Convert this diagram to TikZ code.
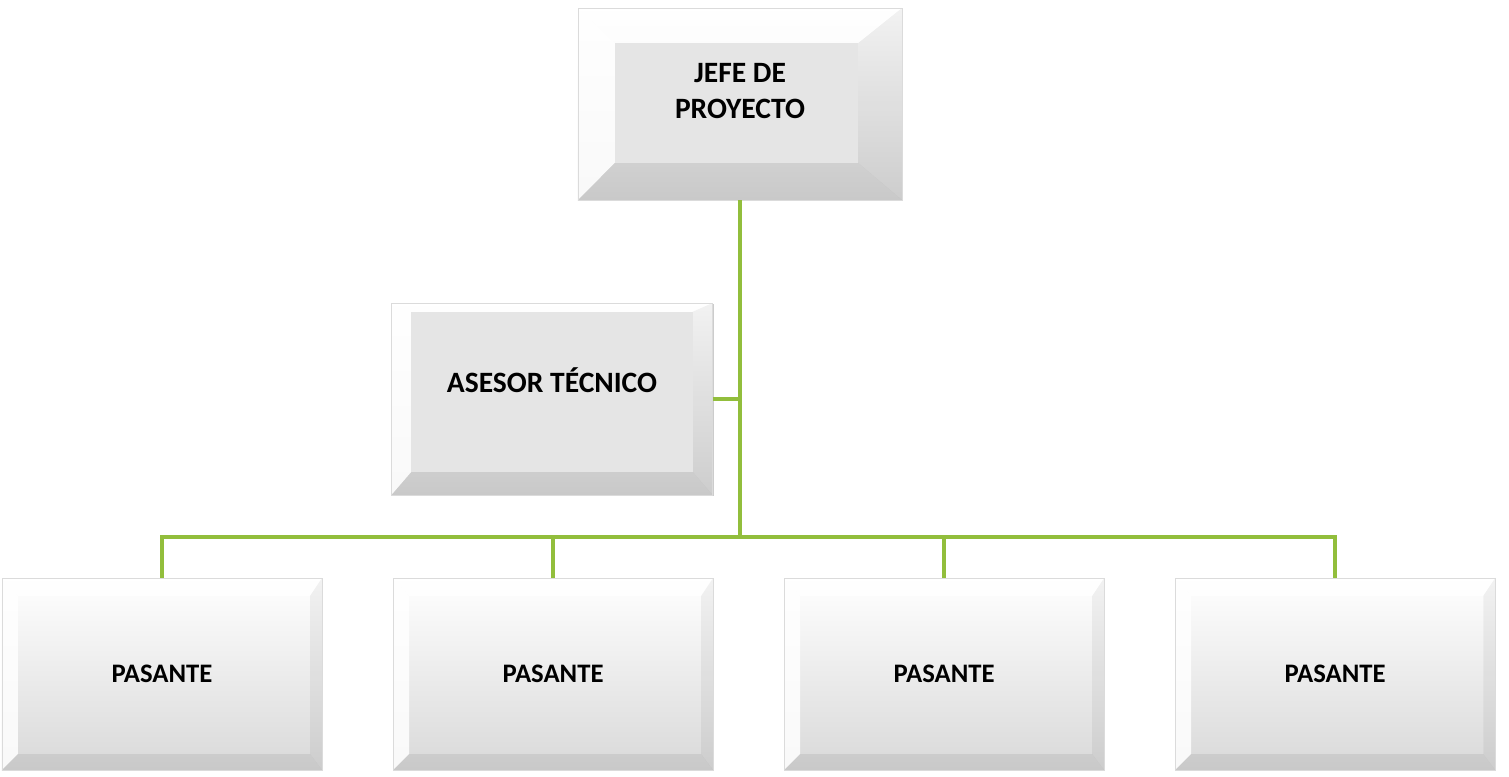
\documentclass[tikz,border=0pt]{standalone}
\usepackage{fontspec}
\setmainfont{Carlito}
\usetikzlibrary{positioning,shadows,calc}
\definecolor{linkgreen}{RGB}{146,190,60}
\definecolor{panelgray}{RGB}{229,229,229}
\newcommand{\bevelfaces}[4]{%
  \path (path picture bounding box.south west) coordinate (bsw)
        (path picture bounding box.north east) coordinate (bne);
  \path (bsw |- bne) coordinate (bnw) (bsw -| bne) coordinate (bse);
  \path ($(bsw)+(#1,#2)$) coordinate (isw) ($(bne)+(-#3,-#4)$) coordinate (ine);
  \path (isw |- ine) coordinate (inw) (isw -| ine) coordinate (ise);
  \fill[white,opacity=.85] (bsw) -- (bnw) -- (inw) -- (isw) -- cycle;
  \fill[white,opacity=.7] (bnw) -- (bne) -- (ine) -- (inw) -- cycle;
  \fill[black,opacity=.05] (bne) -- (bse) -- (ise) -- (ine) -- cycle;
  \fill[black,opacity=.07] (bse) -- (bsw) -- (isw) -- (ise) -- cycle;
}
\tikzset{
  boxbase/.style={rectangle, inner sep=0pt, minimum height=4.8cm,
    top color=white, bottom color=black!15, draw=black!14, line width=0.4pt,
    drop shadow={shadow xshift=0.8pt, shadow yshift=-1pt, opacity=0.4},
    align=center, font=\bfseries\fontsize{21}{26}\selectfont},
  pasbox/.style={boxbase, minimum width=8cm, font=\bfseries\fontsize{19}{23}\selectfont,
    path picture={\bevelfaces{0.4cm}{0.4cm}{0.3cm}{0.45cm}}},
  panelbox/.style n args={4}{boxbase,
    path picture={\bevelfaces{#1}{#2}{#3}{#4}\fill[panelgray] (isw) rectangle (ine);}},
  link/.style={draw=linkgreen, line width=2.8pt}
}
\begin{document}
\begin{tikzpicture}[x=0.025cm, y=-0.025cm]
  \useasboundingbox (0,0) rectangle (1509,776);

  \node (jefe) [panelbox={0.92cm}{0.93cm}{1.1cm}{0.88cm}, minimum width=8.1cm, text depth=0.65cm] at (740,104)
        {JEFE DE\\PROYECTO};
  \node (asesor) [panelbox={0.5cm}{0.58cm}{0.5cm}{0.22cm}, minimum width=8.03cm, text depth=0.95cm] at (552,399)
        {ASESOR TÉCNICO};

  \node (p1) [pasbox] at (162,674) {PASANTE};
  \node (p2) [pasbox, right=1.76cm of p1] {PASANTE};
  \node (p3) [pasbox, right=1.76cm of p2] {PASANTE};
  \node (p4) [pasbox, right=1.76cm of p3] {PASANTE};

  \coordinate (bus) at ($(jefe.south |- 0,537)$);
  \draw[link] (jefe.south) -- (bus);
  \draw[link] (asesor.east) -- (asesor.east -| jefe.south);
  \foreach \p in {p1,p2,p3,p4}
    \draw[link] (\p.north) |- (bus);
\end{tikzpicture}
\end{document}
